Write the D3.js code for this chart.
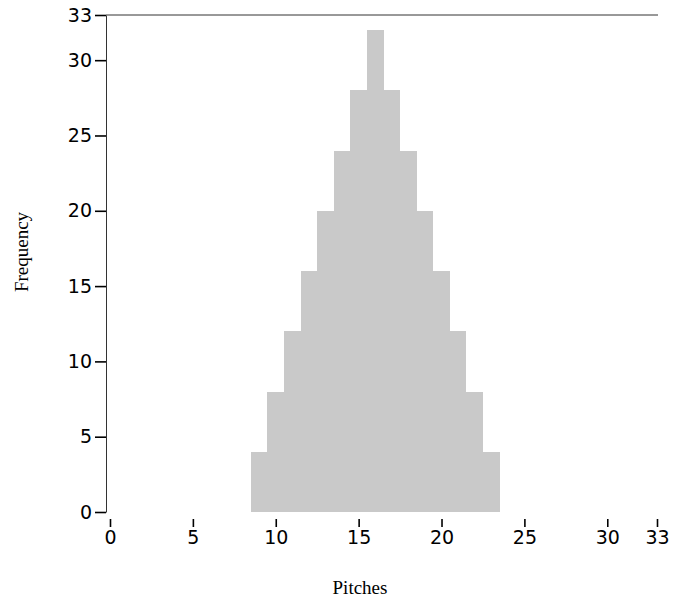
<!DOCTYPE html>
<html>
<head>
<meta charset="utf-8">
<script src="https://cdn.jsdelivr.net/npm/d3@7"></script>
<style>
  body { margin: 0; background: #fff; }
  .tick text { font-family: "DejaVu Sans", Verdana, sans-serif; font-size: 19px; fill: #000; }
  .title { font-family: "Liberation Serif", "Times New Roman", serif; font-size: 19px; fill: #000; }
</style>
</head>
<body>
<div id="chart"></div>
<script>
const pitches = [9, 10, 11, 12, 13, 14, 15, 16, 17, 18, 19, 20, 21, 22, 23];
const counts = [4, 8, 12, 16, 20, 24, 28, 32, 28, 24, 20, 16, 12, 8, 4];
const xTicks = [0, 5, 10, 15, 20, 25, 30, 33];
const yTicks = [0, 5, 10, 15, 20, 25, 30, 33];

const width = 679, height = 601;

const svg = d3.select("#chart").append("svg")
    .attr("width", width)
    .attr("height", height);

const x = d3.scaleLinear().domain([0, 33]).range([110, 657]);
const y = d3.scaleLinear().domain([0, 33]).range([512, 15]);

// bars, one unit wide, centred on each pitch
svg.append("g")
    .attr("shape-rendering", "crispEdges")
    .selectAll("rect")
    .data(pitches)
    .enter()
    .append("rect")
    .attr("x", d => Math.round(x(d - 0.5)))
    .attr("width", d => Math.round(x(d + 0.5)) - Math.round(x(d - 0.5)))
    .attr("y", (d, i) => Math.round(y(counts[i])))
    .attr("height", (d, i) => Math.round(y(0)) - Math.round(y(counts[i])))
    .attr("fill", "#c9c9c9");

// y axis
const yAxis = svg.append("g")
    .attr("transform", "translate(106,0)")
    .call(d3.axisLeft(y).tickValues(yTicks).tickSize(11).tickSizeOuter(0).tickPadding(3));
yAxis.select(".domain").attr("stroke", "#333");
yAxis.selectAll(".tick line").attr("stroke", "#000").attr("stroke-width", 1.6);

// top frame line
svg.append("line")
    .attr("x1", 106).attr("x2", 658)
    .attr("y1", y(33)).attr("y2", y(33))
    .attr("stroke", "#333");

// x axis (ticks only)
const xAxis = svg.append("g")
    .attr("transform", "translate(0,519)")
    .call(d3.axisBottom(x).tickValues(xTicks).tickSize(8).tickSizeOuter(0).tickPadding(4));
xAxis.select(".domain").remove();
xAxis.selectAll(".tick line").attr("stroke", "#000").attr("stroke-width", 1.6);

svg.append("text")
    .attr("class", "title")
    .attr("x", 360).attr("y", 594)
    .attr("text-anchor", "middle")
    .text("Pitches");

svg.append("text")
    .attr("class", "title")
    .attr("transform", "translate(28,252) rotate(-90)")
    .attr("text-anchor", "middle")
    .text("Frequency");
</script>
</body>
</html>
